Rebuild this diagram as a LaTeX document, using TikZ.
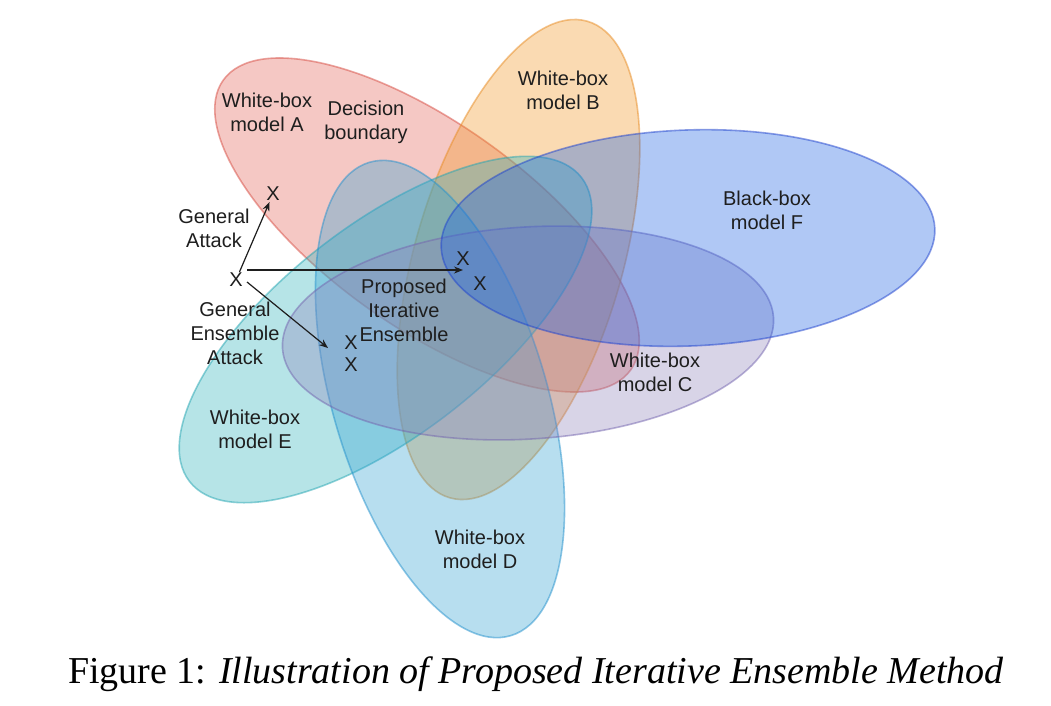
\documentclass[tikz,border=0pt]{standalone}
\usepackage{fontspec}
\setmainfont{Liberation Serif}
\newfontfamily\labelfont{Liberation Sans}
\usetikzlibrary{arrows.meta}
\definecolor{cA}{RGB}{229,98,86}
\definecolor{cAs}{RGB}{215,75,65}
\definecolor{cB}{RGB}{241,149,35}
\definecolor{cBs}{RGB}{232,140,35}
\definecolor{cC}{RGB}{144,132,189}
\definecolor{cCs}{RGB}{115,100,175}
\definecolor{cD}{RGB}{49,161,212}
\definecolor{cDs}{RGB}{35,145,205}
\definecolor{cE}{RGB}{46,178,189}
\definecolor{cEs}{RGB}{35,165,178}
\definecolor{cF}{RGB}{29,98,229}
\definecolor{cFs}{RGB}{30,65,205}
\definecolor{txt}{RGB}{30,30,30}
\begin{document}
\begin{tikzpicture}[x=1pt,y=-1pt,
  ell/.style={line width=1.6pt, fill opacity=0.35, draw opacity=0.5},
  lbl/.style={font=\labelfont\fontsize{20}{24}\selectfont, align=center, text=txt, inner sep=0pt},
  xmark/.style={font=\labelfont\fontsize{20}{24}\selectfont, text=txt, inner sep=1pt},
  arr/.style={-{Stealth[length=9pt,width=7pt]}, line width=1.2pt, draw=txt}]
\useasboundingbox (0,0) rectangle (1051,705);
\fill[white] (0,0) rectangle (1051,705);
% ellipses
\filldraw[ell, fill=cA, draw=cAs, rotate around={-35.4:(427,225)}] (427,225) ellipse [x radius=250pt, y radius=102pt];
\filldraw[ell, fill=cB, draw=cBs, rotate around={73.9:(518.5,259.5)}] (518.5,259.5) ellipse [x radius=248pt, y radius=104pt];
\filldraw[ell, fill=cE, draw=cEs, rotate around={37.8:(385.5,329.5)}] (385.5,329.5) ellipse [x radius=248pt, y radius=105pt];
\filldraw[ell, fill=cD, draw=cDs, rotate around={-73.35:(440,399)}] (440,399) ellipse [x radius=247pt, y radius=107pt];
\filldraw[ell, fill=cC, draw=cCs, rotate around={3.6:(528,333)}] (528,333) ellipse [x radius=246pt, y radius=106pt];
\filldraw[ell, fill=cF, draw=cFs, rotate around={2.2:(688,238)}] (688,238) ellipse [x radius=247pt, y radius=108pt];
% labels
\node[lbl] (lA) at (267,112) {White-box\\model A};
\node[lbl] (lDB) at (366,122) {Decision\\boundary};
\node[lbl] (lB) at (563,90) {White-box\\model B};
\node[lbl] (lF) at (767,210) {Black-box\\model F};
\node[lbl] (lC) at (655,372) {White-box\\model C};
\node[lbl] (lE) at (255,429) {White-box\\model E};
\node[lbl] (lD) at (480,549) {White-box\\model D};
\node[lbl] (lGA) at (214,228) {General\\Attack};
\node[lbl] (lGEA) at (235,333) {General\\Ensemble\\Attack};
\node[lbl] (lPIE) at (404,310) {Proposed\\Iterative\\Ensemble};
% X marks
\node[xmark] (x0) at (236,280) {X};
\node[xmark] (xa) at (273,194) {X};
\node[xmark] (xp1) at (463,259) {X};
\node[xmark] (xp2) at (480,284) {X};
\node[xmark] (xe1) at (351,343) {X};
\node[xmark] (xe2) at (351,365) {X};
% arrows
\coordinate (h0) at (247,270);
\coordinate (h1) at (463,270);
\coordinate (d0) at (247,282);
\coordinate (d1) at (328,348);
\draw[arr] (x0) -- (xa);
\draw[arr] (h0) -- (h1);
\draw[arr] (d0) -- (d1);
% caption
\node[anchor=base, inner sep=0pt, font=\fontsize{38}{44}\selectfont, text=black] (cap) at (536,683) {Figure 1: \textit{Illustration of Proposed Iterative Ensemble Method}};
\end{tikzpicture}
\end{document}
